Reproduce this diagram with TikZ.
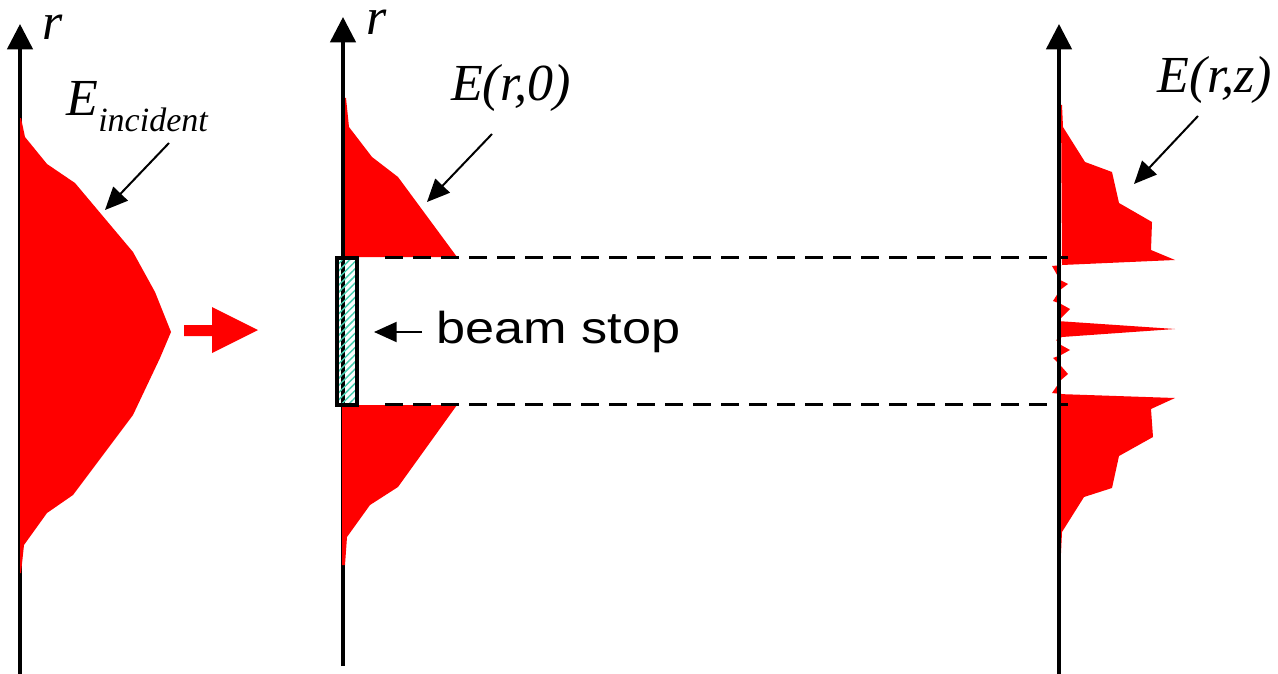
\documentclass[tikz,border=0pt]{standalone}
\usepackage{fontspec}
\setmainfont{Liberation Serif}
\newfontfamily\sansf{Liberation Sans}
\usetikzlibrary{arrows.meta,patterns.meta}
\definecolor{hatch}{RGB}{70,205,175}
\tikzset{
  axis/.style={line width=2.6pt,-{Triangle[length=19pt,width=19pt]}},
  annot/.style={line width=1.5pt,-{Triangle[length=17pt,width=15pt]}},
  prof/.style={fill=red,draw=none},
  guide/.style={line width=2.25pt,dash pattern=on 13.5pt off 7.5pt},
  lbl/.style={inner sep=0pt,font=\itshape\fontsize{39}{42}\selectfont},
}
\begin{document}
\begin{tikzpicture}[x=0.75pt,y=-0.75pt]
\useasboundingbox (0,0) rectangle (1278,674);
% axes
\coordinate (aL0) at (20,674); \coordinate (aL1) at (20,24);
\coordinate (aM0) at (343,666); \coordinate (aM1) at (343,17);
\coordinate (aR0) at (1059,674); \coordinate (aR1) at (1059,24);
\draw[axis] (aL0) -- (aL1);
\draw[axis] (aM0) -- (aM1);
% left profile
\fill[prof] (20,118) -- (21,118) -- (25,137) -- (47,164) -- (75,183) -- (133,252) -- (155,292) -- (171,332)
  -- (160,358) -- (133,415) -- (73,495) -- (47,513) -- (24,545) -- (21,573) -- (20,573) -- cycle;
% red thick arrow
\fill[prof] (184,325) -- (212,325) -- (212,307) -- (258,330) -- (212,353) -- (212,336) -- (184,336) -- cycle;
% middle profiles
\fill[prof] (345,98) -- (346,98) -- (349,127) -- (372,157) -- (398,177) -- (457,257) -- (345,257) -- cycle;
\fill[prof] (342,405) -- (457,405) -- (398,487) -- (370,505) -- (347,537) -- (345,565) -- (342,565) -- cycle;
% right profile
\fill[prof] (1061,105) -- (1062,105) -- (1063,127) -- (1085,162) -- (1112,172) -- (1119,203) -- (1152,222)
  -- (1151,250) -- (1175,260) -- (1062,265) -- cycle;
\fill[prof] (1062,265) -- (1052,266) -- (1060,280) -- (1068,284) -- (1060,290) -- (1053,301) -- (1061,304)
  -- (1070,309) -- (1061,318) -- (1057,321) -- (1175,329) -- (1062,337) -- (1056,340) -- (1061,345)
  -- (1070,350) -- (1061,355) -- (1053,358) -- (1061,366) -- (1068,374) -- (1061,380) -- (1052,393)
  -- (1062,394) -- (1058,394) -- (1058,265) -- cycle;
\fill[prof] (1058,394) -- (1175,398) -- (1151,409) -- (1153,437) -- (1119,456) -- (1112,488) -- (1084,497)
  -- (1062,532) -- (1061,553) -- (1058,553) -- cycle;
\draw[axis] (aR0) -- (aR1);
% dashed guides
\coordinate (g1a) at (385,257); \coordinate (g1b) at (1068,257);
\coordinate (g2a) at (385,404); \coordinate (g2b) at (1068,404);
\draw[guide] (g1a) -- (g1b);
\draw[guide] (g2a) -- (g2b);
% beam stop
\node[draw=black,line width=2.5pt,minimum width=20*0.75pt,minimum height=147*0.75pt,inner sep=0pt,
  pattern={Lines[angle=45,distance=3.8pt,line width=1.1pt]},pattern color=hatch] (stop) at (347,331.5) {};
% labels
\node[lbl,anchor=base west,text height=0.45em] (rL) at (42,40) {r};
\node[lbl,anchor=base west,text height=0.45em] (rM) at (366,35) {r};
\node[lbl,anchor=base west] (Einc) at (66,115) {E};
\node[inner sep=0pt,anchor=base west,font=\itshape\fontsize{25.5}{28}\selectfont] (Esub) at (98,132) {incident};
\node[lbl,anchor=base] (Er0) at (511,100) {E(r,0)};
\node[lbl,anchor=base] (Erz) at (1215,93) {E(r,z)};
\node[inner sep=0pt,anchor=base west,font=\sansf\fontsize{33.5}{36}\selectfont] (bs) at (436,343) {\scalebox{1.17}[1]{beam stop}};
% annotation arrows
\coordinate (t1) at (169,143); \coordinate (h1) at (105,210);
\coordinate (t2) at (492,134); \coordinate (h2) at (427,202);
\coordinate (t3) at (1198,116); \coordinate (h3) at (1134,184);
\coordinate (t4) at (422,332); \coordinate (h4) at (374,332);
\draw[annot] (t1) -- (h1);
\draw[annot] (t2) -- (h2);
\draw[annot] (t3) -- (h3);
\draw[annot] (t4) -- (h4);
\end{tikzpicture}
\end{document}
